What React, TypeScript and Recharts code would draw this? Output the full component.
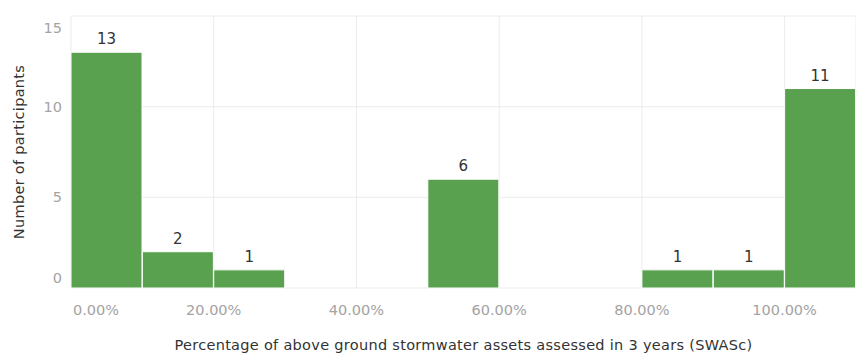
import { Bar, BarChart, CartesianGrid, LabelList, XAxis, YAxis } from 'recharts'

// histogram bins: midpoint of each 10% bin (percent), and number of participants
const binMids = [5, 15, 25, 35, 45, 55, 65, 75, 85, 95, 105]
const participants = [13, 2, 1, 0, 0, 6, 0, 0, 1, 1, 11]

const xTicks = [0, 20, 40, 60, 80, 100]
const yTicks = [0, 5, 10, 15]

const data = binMids.map((mid, i) => ({ mid, count: participants[i] }))

const FONT = '"DejaVu Sans", sans-serif'
const GREEN = '#59a14f'

function XTick(props: any) {
  const { x, y, payload } = props
  const isFirst = payload.value === 0
  return (
    <text
      x={x}
      y={y}
      dx={isFirst ? 2 : 0}
      textAnchor={isFirst ? 'start' : 'middle'}
      dominantBaseline="central"
      fill="#a3a3a3"
      fontSize={14.5}
      fontFamily={FONT}
    >
      {payload.value.toFixed(2)}%
    </text>
  )
}

function YTick(props: any) {
  const { x, y, payload } = props
  // edge labels are pulled inside the plot area
  const dy = payload.value === 0 ? -10 : payload.value === 15 ? 11 : 0
  return (
    <text x={x} y={y} dy={dy} textAnchor="end" dominantBaseline="central" fill="#a3a3a3" fontSize={14.5} fontFamily={FONT}>
      {payload.value}
    </text>
  )
}

export default function App() {
  return (
    <div style={{ width: 856, height: 348, fontFamily: FONT }}>
      <BarChart width={856} height={348} data={data} margin={{ top: 8, right: 8, bottom: 0, left: 0 }} barCategoryGap={0}>
        <CartesianGrid stroke="#ececec" />
        <XAxis
          dataKey="mid"
          type="number"
          domain={[0, 110]}
          ticks={xTicks}
          height={68}
          axisLine={false}
          tickLine={false}
          tickSize={0}
          tickMargin={22}
          tick={<XTick />}
          label={{
            value: 'Percentage of above ground stormwater assets assessed in 3 years (SWASc)',
            position: 'insideBottom',
            offset: 6,
            fill: '#333',
            fontSize: 14.5,
            letterSpacing: 0.3,
            fontFamily: FONT,
          }}
        />
        <YAxis
          domain={[0, 15]}
          ticks={yTicks}
          width={63}
          axisLine={false}
          tickLine={false}
          tickSize={0}
          tickMargin={9}
          tick={<YTick />}
          label={{
            value: 'Number of participants',
            angle: -90,
            position: 'center',
            dx: -21,
            fill: '#333',
            fontSize: 14.5,
            letterSpacing: 0.3,
            fontFamily: FONT,
          }}
        />
        <Bar dataKey="count" fill={GREEN} stroke="#ffffff" strokeWidth={1} isAnimationActive={false}>
          <LabelList
            dataKey="count"
            position="top"
            offset={8}
            fill="#333"
            fontSize={15}
            fontFamily={FONT}
            formatter={(v: any) => (v === 0 ? '' : v)}
          />
        </Bar>
      </BarChart>
    </div>
  )
}
